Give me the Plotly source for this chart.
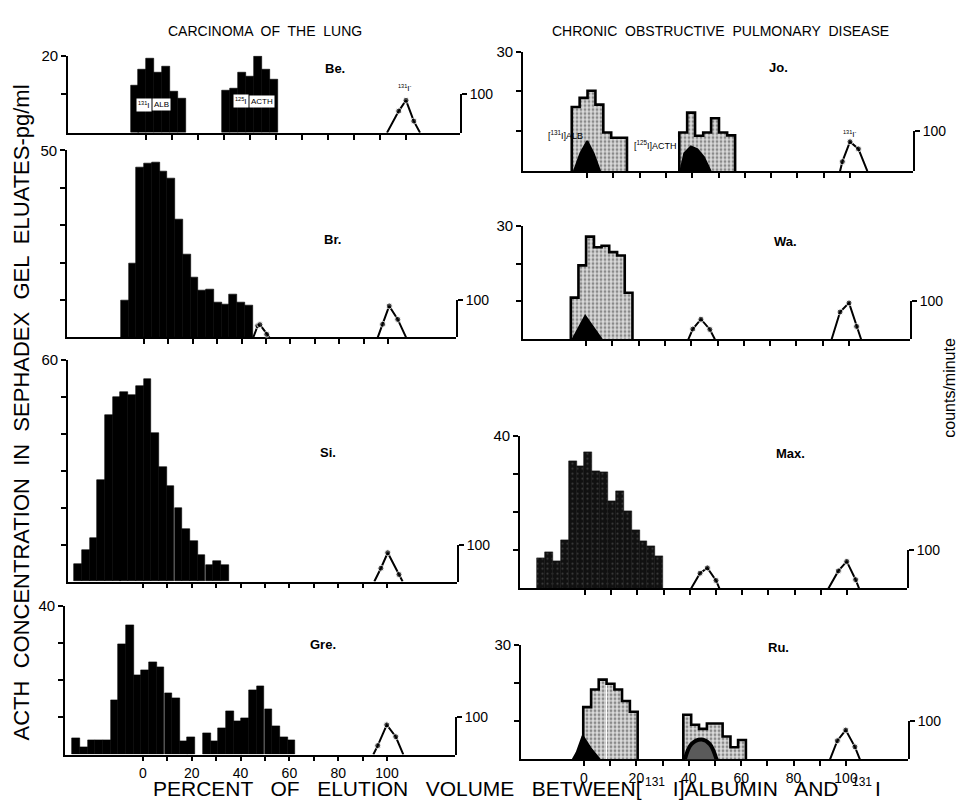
import plotly.graph_objects as go

# page window is 968x809; the page body has an 8px margin, so the figure is
# made 16px smaller and the reference pixel positions are shifted by 8px.
WIN_W, WIN_H, PAD = 968, 809, 8
W, H = WIN_W - 2 * PAD, WIN_H - 2 * PAD

# ---------------- data ----------------
# x = percent of elution volume, y = ACTH concentration (pg/ml)
be_x = [-4.4, -1.4, 1.7, 4.7, 7.7, 10.8, 13.8, 30.8, 33.9, 36.9, 40.0, 43.0, 46.1, 49.2]
be_y = [12.2, 16.3, 19.3, 15.7, 17.1, 10.6, 8.9, 10.8, 11.5, 15.7, 14.5, 19.7, 16.3, 13.9]

br_x = [-7.8, -4.7, -1.5, 1.7, 4.8, 8.0, 11.2, 14.3, 17.5, 20.7, 23.9, 27.0, 30.2, 33.4, 36.5, 39.7, 42.9]
br_y = [9.9, 19.8, 45.4, 46.5, 46.9, 44.4, 42.5, 31.5, 22.2, 16.0, 12.5, 12.8, 9.4, 8.7, 11.4, 9.3, 8.6]

si_x = [-26.7, -23.5, -20.3, -17.2, -14.0, -10.8, -7.7, -4.5, -1.3, 1.8,
        5.0, 8.2, 11.3, 14.5, 17.7, 20.8, 24.0, 27.2, 30.3, 33.5]
si_y = [4.7, 8.5, 11.8, 27.6, 45.0, 50.0, 51.3, 50.6, 52.9, 54.9,
        40.1, 31.0, 25.8, 19.9, 14.3, 11.0, 7.2, 4.5, 5.6, 4.5]

gre_x = [-27.4, -24.3, -21.1, -18.0, -14.8, -11.7, -8.5, -5.4, -2.2, 0.9, 4.1, 7.2, 10.4, 13.5,
         16.7, 19.8, 26.1, 29.3, 32.4, 35.6, 38.8, 41.9, 45.1, 48.2, 51.4, 54.5, 57.7, 60.8]
gre_y = [4.4, 2.1, 3.9, 3.9, 3.9, 14.6, 29.7, 35.0, 21.5, 22.7, 24.8, 23.5, 16.6, 15.3,
         3.7, 4.6, 5.7, 3.7, 7.1, 11.6, 8.9, 9.8, 17.3, 18.4, 12.2, 7.7, 4.6, 3.9]

jo_alb_x = [-4.3, -1.3, 1.7, 4.7, 7.7, 10.7, 13.7]
jo_alb_y = [16.1, 18.4, 20.2, 16.7, 9.7, 8.4, 8.4]
jo_acth_x = [36.6, 39.6, 42.6, 45.7, 48.7, 51.7, 54.8]
jo_acth_y = [9.7, 14.7, 8.9, 9.7, 13.3, 9.7, 9.0]

wa_x = [-4.3, -1.4, 1.5, 4.5, 7.4, 10.3, 13.3, 16.2]
wa_y = [11.0, 19.5, 27.1, 24.3, 24.7, 23.0, 22.1, 12.3]

max_x = [-16.7, -13.7, -10.7, -7.7, -4.7, -1.7, 1.3, 4.3, 7.3, 10.3, 13.3, 16.3, 19.3, 22.3, 25.3, 28.3]
max_y = [7.9, 9.5, 7.2, 12.6, 33.5, 32.2, 35.9, 30.8, 30.5, 23.0, 25.6, 20.4, 15.4, 12.4, 11.1, 8.6]

ru_alb_x = [1.2, 4.2, 7.1, 10.1, 13.1, 16.0, 19.0]
ru_alb_y = [13.7, 18.3, 20.9, 19.8, 18.3, 15.3, 12.5]
ru_acth_x = [39.4, 42.4, 45.4, 48.4, 51.4, 54.4, 57.4, 60.3]
ru_acth_y = [11.7, 9.1, 8.0, 9.4, 9.4, 6.0, 3.2, 5.1]

# radioactivity markers (counts/minute)
be_i131_x = [92.7, 97.2, 100.0, 103.0, 105.4]
be_i131_c = [0, 56, 84, 30, 0]
br_acth_cx = [44.8, 46.6, 47.5, 50.3, 51.4]
br_acth_c = [0, 31, 34, 8, 0]
br_i131_x = [95.8, 97.8, 100.5, 104.0, 107.4]
br_i131_c = [0, 35, 84, 48, 0]
si_i131_x = [94.8, 97.5, 100.3, 104.9, 106.4]
si_i131_c = [0, 36, 78, 19, 0]
gre_i131_x = [94.4, 96.2, 99.9, 103.6, 106.7]
gre_i131_c = [0, 24, 80, 48, 0]

jo_albc_x = [-5.0, -2.5, 0.1, 2.5, 5.0]
jo_albc_c = [0, 45, 76, 45, 0]
jo_acthc_x = [35.5, 37.0, 39.5, 42.0, 44.5, 47.0]
jo_acthc_c = [0, 45, 62, 55, 35, 0]
jo_i131_x = [96.2, 97.1, 100.0, 103.2, 106.6]
jo_i131_c = [0, 24, 74, 56, 0]

wa_albc_x = [-5.1, -0.3, 6.0]
wa_albc_c = [0, 62, 0]
wa_acthc_x = [38.9, 40.6, 43.7, 47.1, 49.0]
wa_acthc_c = [0, 27, 53, 26, 0]
wa_i131_x = [93.4, 96.6, 100.0, 102.9, 104.6]
wa_i131_c = [0, 72, 96, 34, 0]

max_acthc_x = [40.5, 43.9, 46.7, 50.0, 51.3]
max_acthc_c = [0, 40, 54, 21, 0]
max_i131_x = [92.9, 96.7, 99.9, 103.3, 104.6]
max_i131_c = [0, 46, 71, 23, 0]

ru_albc_x = [-4.3, -2.8, -0.5, 2.5, 6.0]
ru_albc_c = [0, 18, 62, 30, 0]
ru_acthc_x = [38.5, 41.0, 44.9, 48.0, 50.6]
ru_acthc_c = [0, 40, 52, 40, 0]
ru_i131_x = [93.9, 96.7, 99.9, 103.4, 105.3]
ru_i131_c = [0, 49, 77, 33, 0]

x_ticks = [0, 10, 20, 30, 40, 50, 60, 70, 80, 90, 100]
x_ticktext = ["0", "", "20", "", "40", "", "60", "", "80", "", "100"]

# ---------------- panel layout (reference pixel boxes) ----------------
panels = [
    dict(name="Be.", box=(68, 460, 47, 125), x0=146, ppu=2.6, ymax=20, style="black",
         groups=[(be_x, be_y, 3.05)], curves=[(be_i131_x, be_i131_c, "open")],
         lab=(335, 60), xlabels=False),
    dict(name="Br.", box=(67, 456, 143, 332), x0=144, ppu=2.44, ymax=50, style="black",
         groups=[(br_x, br_y, 3.17)],
         curves=[(br_acth_cx, br_acth_c, "open"), (br_i131_x, br_i131_c, "open")],
         lab=(332, 233), xlabels=False),
    dict(name="Si.", box=(68, 457, 355, 579), x0=143, ppu=2.44, ymax=60, style="black",
         groups=[(si_x, si_y, 3.17)], curves=[(si_i131_x, si_i131_c, "open")],
         lab=(328, 448), xlabels=False),
    dict(name="Gre.", box=(65, 455, 604, 754), x0=143, ppu=2.44, ymax=40, style="black",
         groups=[(gre_x, gre_y, 3.15)], curves=[(gre_i131_x, gre_i131_c, "open")],
         lab=(323, 643), xlabels=True),
    dict(name="Jo.", box=(523, 913, 43, 164), x0=587, ppu=2.63, ymax=30, style="stipple",
         groups=[(jo_alb_x, jo_alb_y, 3.0), (jo_acth_x, jo_acth_y, 3.03)],
         curves=[(jo_albc_x, jo_albc_c, "fill"), (jo_acthc_x, jo_acthc_c, "fill"),
                 (jo_i131_x, jo_i131_c, "open")],
         lab=(778, 59), xlabels=False),
    dict(name="Wa.", box=(523, 910, 219, 334), x0=586, ppu=2.63, ymax=30, style="stipple",
         groups=[(wa_x, wa_y, 2.94)],
         curves=[(wa_albc_x, wa_albc_c, "fill"), (wa_acthc_x, wa_acthc_c, "open"),
                 (wa_i131_x, wa_i131_c, "open")],
         lab=(785, 235), xlabels=False),
    dict(name="Max.", box=(520, 907, 432, 586), x0=585, ppu=2.62, ymax=40, style="dark",
         groups=[(max_x, max_y, 3.0)],
         curves=[(max_acthc_x, max_acthc_c, "open"), (max_i131_x, max_i131_c, "open")],
         lab=(790, 450), xlabels=False),
    dict(name="Ru.", box=(521, 908, 643, 759), x0=584, ppu=2.62, ymax=30, style="stipple",
         groups=[(ru_alb_x, ru_alb_y, 2.97), (ru_acth_x, ru_acth_y, 2.99)],
         curves=[(ru_albc_x, ru_albc_c, "fill"), (ru_acthc_x, ru_acthc_c, "arch"),
                 (ru_i131_x, ru_i131_c, "open")],
         lab=(778, 646), xlabels=True),
]


def fx(px):
    return (px - PAD) / W


def fy(py):
    return 1 - (py - PAD) / H


FONT = "Liberation Sans, Arial, sans-serif"
fig = go.Figure()
layout = dict(width=W, height=H, margin=dict(l=0, r=0, t=0, b=0),
              paper_bgcolor="white", plot_bgcolor="rgba(0,0,0,0)",
              showlegend=False, barmode="overlay", bargap=0,
              font=dict(family=FONT, color="black"))
annotations = []


def step_outline(xc, yv, w):
    xs = [xc[0] - w / 2]
    ys = [0]
    for c, v in zip(xc, yv):
        xs.append(c - w / 2)
        ys.append(v)
    xs.append(xc[-1] + w / 2)
    ys.append(0)
    return xs, ys


for i, p in enumerate(panels, start=1):
    l, r, t, b = p["box"]
    xr = [(l - p["x0"]) / p["ppu"], (r - p["x0"]) / p["ppu"]]
    ymax = p["ymax"]
    xa, ya, ca = f"x{i}", f"y{i}", f"y{i + 8}"
    y10 = b - (b - t) * 10 / ymax

    layout[f"xaxis{i}"] = dict(
        domain=[fx(l), fx(r)], range=xr, anchor=ya, showline=True, linewidth=1.8,
        linecolor="black", ticks="outside", ticklen=5, tickwidth=1.5, tickcolor="black",
        tickvals=x_ticks, ticktext=x_ticktext if p["xlabels"] else [" "] * len(x_ticks),
        showticklabels=p["xlabels"], tickfont=dict(size=14, family=FONT),
        showgrid=False, zeroline=False, fixedrange=True)
    yticks = list(range(10, ymax + 1, 10))
    layout[f"yaxis{i}"] = dict(
        domain=[fy(b), fy(t)], range=[0, ymax], anchor=xa, showline=True, linewidth=1.8,
        linecolor="black", ticks="outside", ticklen=5, tickwidth=1.5, tickcolor="black",
        tickvals=yticks, ticktext=[" " if v != ymax else str(ymax) for v in yticks],
        tickfont=dict(size=15, family=FONT), showgrid=False, zeroline=False, fixedrange=True)
    layout[f"yaxis{i + 8}"] = dict(
        domain=[fy(b), fy(y10)], range=[0, 100], anchor=xa, side="right", showline=True,
        linewidth=1.8, linecolor="black", ticks="outside", ticklen=5, tickwidth=1.5,
        tickcolor="black", tickvals=[100], ticktext=["100"],
        tickfont=dict(size=14, family=FONT), showgrid=False, zeroline=False, fixedrange=True)

    # bars
    for gx, gy, w in p["groups"]:
        if p["style"] == "black":
            marker = dict(color="black", line=dict(width=0.6, color="black"))
        elif p["style"] == "dark":
            marker = dict(color="#111111", line=dict(width=0.6, color="#111111"),
                          pattern=dict(shape=".", fgcolor="#6a6a6a", bgcolor="#111111",
                                       size=5, solidity=0.15))
        else:
            marker = dict(color="#d6d6d6", line=dict(width=0),
                          pattern=dict(shape=".", fgcolor="#3a3a3a", bgcolor="#dadada",
                                       size=4, solidity=0.4))
        fig.add_trace(go.Bar(x=gx, y=gy, width=w, marker=marker, xaxis=xa, yaxis=ya,
                             hoverinfo="skip"))

    # radioactivity curves
    for cx, cc, kind in p["curves"]:
        if kind == "open":
            fig.add_trace(go.Scatter(
                x=cx, y=cc, mode="lines+markers", xaxis=xa, yaxis=ca, cliponaxis=False,
                line=dict(color="black", width=2),
                marker=dict(size=[0] + [6] * (len(cx) - 2) + [0], color="black"),
                hoverinfo="skip"))
        elif kind == "fill":
            fig.add_trace(go.Scatter(
                x=cx, y=cc, mode="lines", fill="toself", fillcolor="black",
                xaxis=xa, yaxis=ca, cliponaxis=False,
                line=dict(color="black", width=2), hoverinfo="skip"))
        else:
            fig.add_trace(go.Scatter(
                x=cx, y=cc, mode="lines", fill="toself", fillcolor="#5a5a5a",
                xaxis=xa, yaxis=ca, cliponaxis=False, line_shape="spline",
                line=dict(color="black", width=4), hoverinfo="skip"))

    # step outline for stippled histograms
    if p["style"] == "stipple":
        for gx, gy, w in p["groups"]:
            sx, sy = step_outline(gx, gy, w)
            fig.add_trace(go.Scatter(x=sx, y=sy, mode="lines", line_shape="hv",
                                     line=dict(color="black", width=2.6),
                                     xaxis=xa, yaxis=ya, cliponaxis=False,
                                     hoverinfo="skip"))

    annotations.append(dict(text="<b>" + p["name"] + "</b>", x=fx(p["lab"][0]),
                            y=fy(p["lab"][1]), xref="paper", yref="paper", showarrow=False,
                            font=dict(size=13, family=FONT), xanchor="center",
                            yanchor="middle"))


def txt(text, px, py, size, angle=0, **kw):
    d = dict(text=text, x=fx(px), y=fy(py), xref="paper", yref="paper",
             showarrow=False, font=dict(size=size, family=FONT, color="black"),
             textangle=angle, xanchor="center", yanchor="middle")
    d.update(kw)
    annotations.append(d)


txt("CARCINOMA  OF  THE  LUNG", 265, 22, 14)
txt("CHRONIC  OBSTRUCTIVE  PULMONARY  DISEASE", 720, 22, 14)
txt("ACTH  CONCENTRATION  IN  SEPHADEX  GEL  ELUATES-pg/ml", 21, 408, 22, angle=-90)
txt("counts/minute", 950, 383, 16, angle=-90)

# bottom axis title, built from pieces so the raised isotope numbers sit clear of the ticks
txt("PERCENT   OF   ELUTION   VOLUME   BETWEEN[", 643, 788, 21, xanchor="right", borderpad=0)
txt("131", 655, 782, 12, borderpad=0)
txt(" I]ALBUMIN   AND", 666, 788, 21, xanchor="left", borderpad=0)
txt("131", 862, 782, 12, borderpad=0)
txt("I", 874, 788, 21, xanchor="left", borderpad=0)

# small labels
txt("<sup>131</sup>I", 144, 97, 8, bgcolor="white")
txt("ALB", 161, 97, 8, bgcolor="white")
txt("<sup>125</sup>I", 241, 93, 8, bgcolor="white")
txt("ACTH", 262, 93, 8, bgcolor="white")
txt("<sup>131</sup>I<sup>-</sup>", 405, 80, 8)
txt("[<sup>131</sup>I]ALB", 565, 127, 9)
txt("[<sup>125</sup>I]ACTH", 655, 137, 9)
txt("<sup>131</sup>I<sup>-</sup>", 850, 126, 8)

layout["annotations"] = annotations
fig.update_layout(**layout)
fig.write_html("out.html")
